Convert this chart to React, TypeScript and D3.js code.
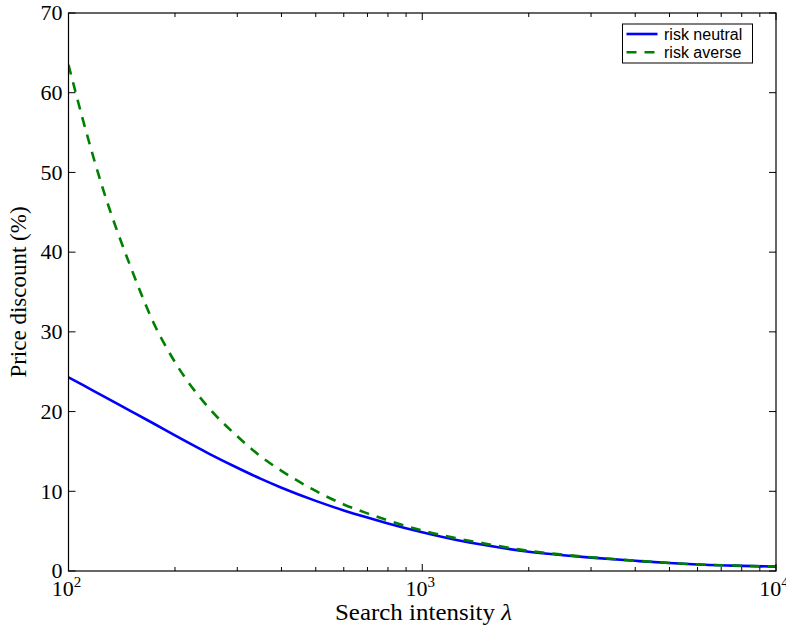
import React from "react";
import * as d3 from "d3";

const lambdas = [100, 110, 125, 150, 175, 200, 250, 300, 350, 400, 500, 600, 700, 800, 1000, 1250, 1500, 2000, 2500, 3000, 4000, 5000, 6000, 7500, 10000];
const riskNeutral = [24.3, 23.31, 21.96, 20.06, 18.44, 17.0, 14.7, 12.95, 11.55, 10.45, 8.8, 7.6, 6.7, 5.97, 4.86, 3.9, 3.25, 2.42, 1.98, 1.68, 1.28, 1.0, 0.82, 0.68, 0.55];
const riskAverse = [63.5, 56.5, 48.0, 38.1, 30.9, 26.2, 20.4, 16.9, 14.35, 12.57, 10.04, 8.35, 7.23, 6.35, 5.08, 4.1, 3.45, 2.52, 2.05, 1.72, 1.3, 1.01, 0.83, 0.69, 0.56];
const yTicks = [0, 10, 20, 30, 40, 50, 60, 70];
const xMajor = [100, 1000, 10000];
const xExp = ["2", "3", "4"];
const seriesNames = ["risk neutral", "risk averse"];

const W = 786, H = 635;
const L = 68.5, R = 776, T = 13, B = 571;
const serif = "'Liberation Serif', 'DejaVu Serif', serif";
const sans = "'Liberation Sans', Arial, sans-serif";

export default function App() {
  const x = d3.scaleLog().domain([100, 10000]).range([L, R]);
  const y = d3.scaleLinear().domain([0, 70]).range([B, T]);
  const line = d3.line<number>()
    .x((_, i) => x(lambdas[i]))
    .curve(d3.curveMonotoneX);
  const blueD = line.y((v) => y(v))(riskNeutral) || "";
  const greenD = line.y((v) => y(v))(riskAverse) || "";
  const minors: number[] = [];
  [100, 1000].forEach((b) => { for (let k = 2; k <= 9; k++) minors.push(b * k); });

  return (
    <svg width={W} height={H} style={{ position: "absolute", left: 0, top: 0, background: "#fff" }}>
      <defs>
        <clipPath id="plot"><rect x={L} y={T} width={R - L} height={B - T} /></clipPath>
      </defs>
      <g clipPath="url(#plot)">
        <path d={blueD} fill="none" stroke="#0000ff" strokeWidth={2.6} />
        <path d={greenD} fill="none" stroke="#008000" strokeWidth={2.6} strokeDasharray="10,8" />
      </g>
      <rect x={L} y={T} width={R - L} height={B - T} fill="none" stroke="#000" strokeWidth={1.2} />
      {yTicks.map((t) => (
        <g key={"y" + t}>
          <line x1={L} x2={L + 7} y1={y(t)} y2={y(t)} stroke="#000" strokeWidth={1} />
          <line x1={R} x2={R - 7} y1={y(t)} y2={y(t)} stroke="#000" strokeWidth={1} />
          <text x={L - 6} y={y(t)} dy="0.33em" textAnchor="end" fontFamily={serif} fontSize={22} fill="#000">{t}</text>
        </g>
      ))}
      {xMajor.map((t, i) => (
        <g key={"x" + t}>
          <line x1={x(t)} x2={x(t)} y1={B} y2={B - 7} stroke="#000" strokeWidth={1} />
          <line x1={x(t)} x2={x(t)} y1={T} y2={T + 7} stroke="#000" strokeWidth={1} />
          <text x={x(t) - 16.8} y={596} textAnchor="start" fontFamily={serif} fontSize={22} fill="#000">
            10<tspan fontSize={15} dy={-9}>{xExp[i]}</tspan>
          </text>
        </g>
      ))}
      {minors.map((t) => (
        <g key={"m" + t}>
          <line x1={x(t)} x2={x(t)} y1={B} y2={B - 4} stroke="#000" strokeWidth={1} />
          <line x1={x(t)} x2={x(t)} y1={T} y2={T + 4} stroke="#000" strokeWidth={1} />
        </g>
      ))}
      <text x={335} y={620} textLength={177} lengthAdjust="spacingAndGlyphs" fontFamily={serif} fontSize={23} fill="#000">
        Search intensity <tspan fontStyle="italic">λ</tspan>
      </text>
      <text transform={`translate(26,${(T + B) / 2}) rotate(-90)`} textAnchor="middle" fontFamily={serif} fontSize={23} fill="#000">
        Price discount (%)
      </text>
      <g>
        <rect x={622.5} y={24} width={130} height={39} fill="#fff" stroke="#000" strokeWidth={1} />
        {seriesNames.map((n, i) => (
          <g key={n} transform={`translate(0,${34 + i * 18.3})`}>
            <line x1={626.5} x2={657.5} y1={0} y2={0} stroke={i === 0 ? "#0000ff" : "#008000"} strokeWidth={2.6} strokeDasharray={i === 0 ? undefined : "10,8"} />
            <text x={664} y={0} dy="0.35em" fontFamily={sans} fontSize={16} fill="#000">{n}</text>
          </g>
        ))}
      </g>
    </svg>
  );
}
